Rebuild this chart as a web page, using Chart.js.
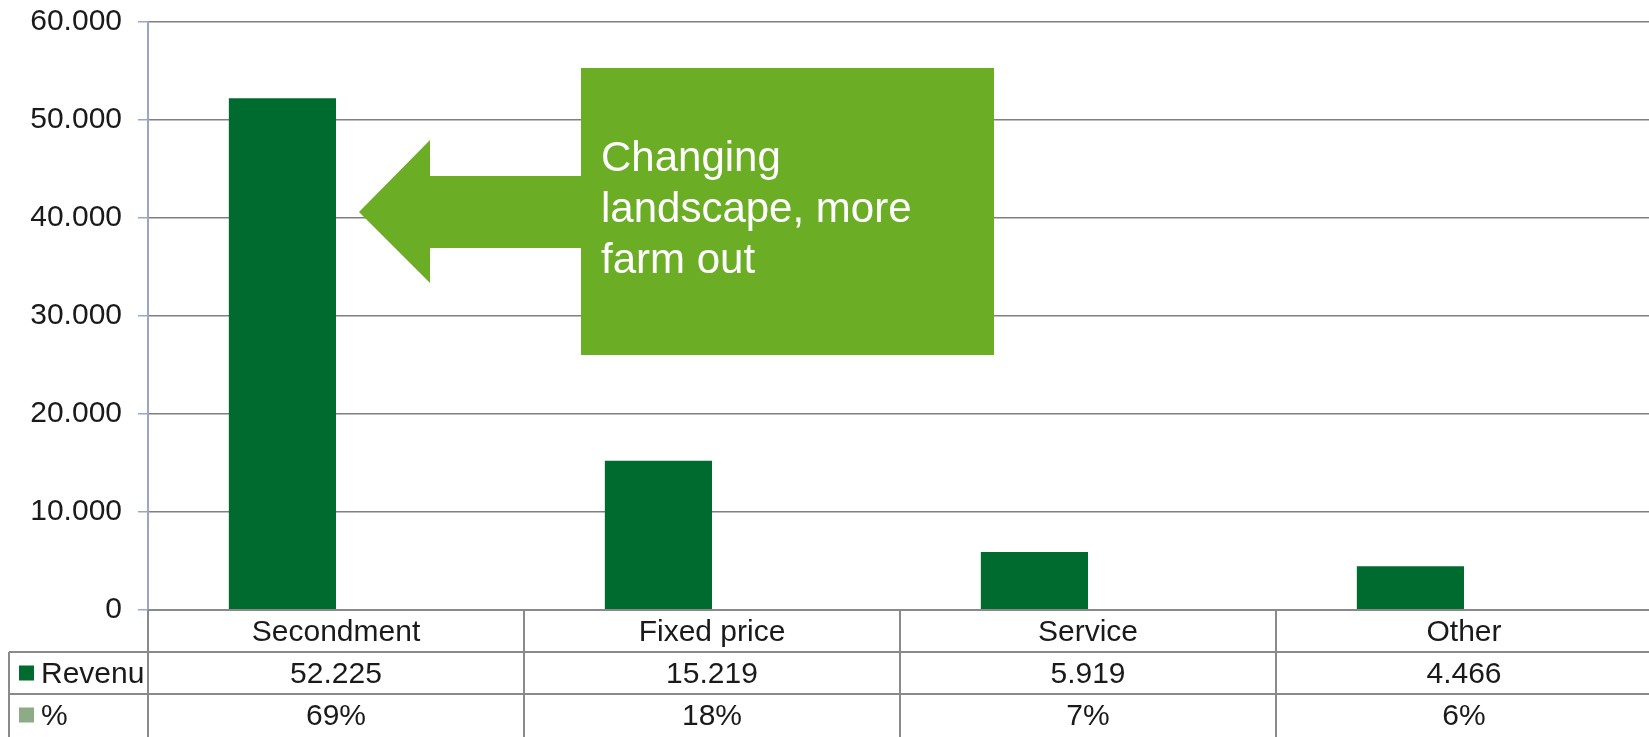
<!DOCTYPE html>
<html>
<head>
<meta charset="utf-8">
<script src="https://cdn.jsdelivr.net/npm/chart.js@4/dist/chart.umd.min.js"></script>
<style>
  html, body { margin: 0; padding: 0; background: #fff; overflow: hidden; }
  #wrap { width: 1652px; height: 737px; }
</style>
</head>
<body>
<div id="wrap"><canvas id="chart" width="1652" height="737"></canvas></div>
<script>
// chart data
const categories = ['Secondment', 'Fixed price', 'Service', 'Other'];
const revenue = [52225, 15219, 5919, 4466];
const percent = [69, 18, 7, 6];
const seriesNames = ['Revenue', '%'];
const yTicks = [0, 10000, 20000, 30000, 40000, 50000, 60000];
const calloutLines = ['Changing', 'landscape, more', 'farm out'];

const FONT = "'Liberation Sans', Arial, sans-serif";
const TEXT = '#1a1a1a';
const DARK = '#006b2f';
const LIGHT = '#8dab87';
const CALLOUT = '#6bae25';
const LINE = '#8a8a8a';

// thousands with dots, like the source sheet
const fmt = v => String(v).replace(/\B(?=(\d{3})+(?!\d))/g, '.');

// data table under the plot, built off the x scale
const dataTable = {
    id: 'dataTable',
    afterDraw(chart) {
        const { ctx, chartArea, scales: { x } } = chart;
        const rowH = 42;
        const top = chartArea.bottom;
        const left = 9;
        const n = categories.length;
        const half = (chartArea.right - chartArea.left) / n / 2;
        ctx.save();
        ctx.strokeStyle = LINE;
        ctx.lineWidth = 2;
        ctx.beginPath();
        ctx.moveTo(chartArea.left, top); ctx.lineTo(chartArea.right, top);
        ctx.moveTo(left, top + rowH); ctx.lineTo(chartArea.right, top + rowH);
        ctx.moveTo(left, top + rowH * 2); ctx.lineTo(chartArea.right, top + rowH * 2);
        ctx.moveTo(left, top + rowH); ctx.lineTo(left, chart.height);
        for (let i = 0; i < n; i++) {
            const bx = x.getPixelForValue(i) - half;
            ctx.moveTo(bx, top); ctx.lineTo(bx, chart.height);
        }
        ctx.moveTo(chartArea.right, top); ctx.lineTo(chartArea.right, chart.height);
        ctx.stroke();

        ctx.font = '30px ' + FONT;
        ctx.fillStyle = TEXT;
        ctx.textAlign = 'center';
        ctx.textBaseline = 'middle';
        categories.forEach((c, i) => {
            const cx = x.getPixelForValue(i);
            ctx.fillText(c, cx, top + rowH / 2 + 2);
            ctx.fillText(fmt(revenue[i]), cx, top + rowH * 1.5 + 2);
            ctx.fillText(percent[i] + '%', cx, top + rowH * 2.5 + 2);
        });

        // legend keys in first column
        const keys = [DARK, LIGHT];
        ctx.textAlign = 'left';
        seriesNames.forEach((name, r) => {
            const cy = top + rowH * (r + 1.5);
            ctx.fillStyle = keys[r];
            ctx.fillRect(19, cy - 7.5, 15, 15);
            // cut the name like excel does when the cell is too narrow
            let s = name;
            while (s.length && 41 + ctx.measureText(s).width > chartArea.left - 3) s = s.slice(0, -1);
            ctx.fillStyle = TEXT;
            ctx.fillText(s, 41, cy + 2);
        });
        ctx.restore();
    }
};

// green arrow + text box
const callout = {
    id: 'callout',
    afterDraw(chart) {
        const ctx = chart.ctx;
        ctx.save();
        ctx.fillStyle = CALLOUT;
        ctx.beginPath();
        ctx.moveTo(359, 212);
        ctx.lineTo(430, 140);
        ctx.lineTo(430, 176);
        ctx.lineTo(582, 176);
        ctx.lineTo(582, 248);
        ctx.lineTo(430, 248);
        ctx.lineTo(430, 283);
        ctx.closePath();
        ctx.fill();
        ctx.fillRect(581, 68, 413, 287);
        ctx.fillStyle = '#fff';
        ctx.font = '42px ' + FONT;
        ctx.textBaseline = 'alphabetic';
        calloutLines.forEach((l, i) => ctx.fillText(l, 601, 171 + i * 51));
        ctx.restore();
    }
};

new Chart(document.getElementById('chart'), {
    type: 'bar',
    data: {
        labels: categories,
        datasets: [
            {
                label: seriesNames[0],
                data: revenue,
                backgroundColor: DARK,
                borderWidth: 0,
                barPercentage: 1,
                categoryPercentage: 0.57
            },
            {
                label: seriesNames[1],
                data: percent.map(p => p / 100),
                backgroundColor: LIGHT,
                borderWidth: 0,
                barPercentage: 1,
                categoryPercentage: 0.57
            }
        ]
    },
    options: {
        responsive: false,
        animation: false,
        devicePixelRatio: 1,
        layout: { padding: { top: 22, bottom: 127, left: 0, right: 0 } },
        plugins: {
            legend: { display: false },
            tooltip: { enabled: false }
        },
        scales: {
            x: { display: false },
            y: {
                min: 0,
                max: 60000,
                afterFit: s => {
                    s.width = 148;
                    s.paddingTop = 0;
                    s.paddingBottom = 0;
                },
                afterBuildTicks: s => { s.ticks = yTicks.map(v => ({ value: v })); },
                ticks: {
                    padding: 16,
                    color: TEXT,
                    font: { family: FONT, size: 30 },
                    callback: v => fmt(v)
                },
                grid: {
                    color: '#7f7f7f',
                    lineWidth: 1.5,
                    tickColor: '#9aa6c8',
                    tickLength: 10
                },
                border: { color: '#9aa6c8', width: 2 }
            }
        }
    },
    plugins: [dataTable, callout]
});
</script>
</body>
</html>
